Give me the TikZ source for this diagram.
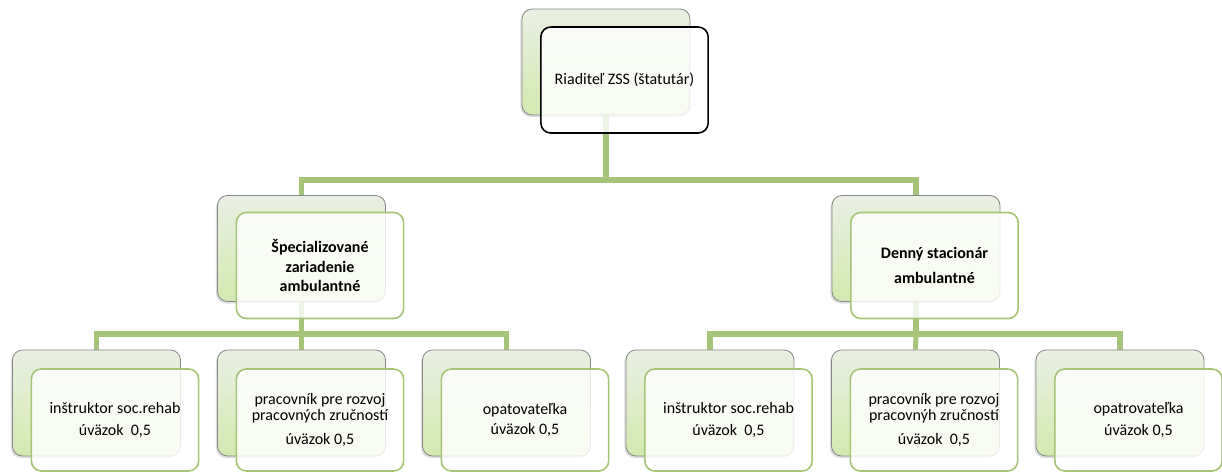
\documentclass[tikz,border=0pt]{standalone}
\usepackage{fontspec}
\setmainfont{Carlito}
\usetikzlibrary{backgrounds,shadows}
\definecolor{lineGreen}{RGB}{166,196,122}
\definecolor{edgeGreen}{RGB}{165,196,118}
\definecolor{backTop}{RGB}{233,239,226}
\definecolor{backBottom}{RGB}{211,233,176}
\definecolor{backEdge}{RGB}{135,135,135}
\tikzset{
  backbox/.style={rectangle, rounded corners=7.5pt, minimum width=126pt, minimum height=79.5pt,
    inner sep=0pt, draw=backEdge, line width=0.6pt, top color=backTop, bottom color=backBottom,
    drop shadow={shadow xshift=-1.2pt, shadow yshift=-1.5pt, opacity=0.25}},
  frontbox/.style={rectangle, rounded corners=7.5pt, minimum width=125.5pt, minimum height=79.5pt,
    inner sep=0pt, draw=edgeGreen, line width=1.2pt, fill=white, fill opacity=0.82, text opacity=1,
    align=center, font=\fontsize{12}{12}\selectfont},
  lowbox/.style={frontbox, minimum height=76.5pt},
  conn/.style={draw=lineGreen, line width=3.8pt}
}
\begin{document}
\begin{tikzpicture}[x=0.75pt,y=-0.75pt]
  \useasboundingbox (0,0) rectangle (1222,472);
  % riaditel
  \node[backbox] (riad) at (606,62) {};
  \node[frontbox, draw=black] (riadT) at ([shift={(18.5,18)}]riad) {Riaditeľ ZSS (štatutár)};
  % druha uroven
  \node[backbox] (spec) at (301.5,248.5) {};
  \node[frontbox] (specT) at ([shift={(18.5,17)}]spec) {\textbf{Špecializované}\\[2.5pt]\textbf{zariadenie}\\[2.5pt]\textbf{ambulantné}};
  \node[backbox] (denny) at (916,248.5) {};
  \node[frontbox] (dennyT) at ([shift={(18.5,17)}]denny) {\textbf{Denný stacionár}\\[6.75pt]\textbf{ambulantné}};
  % tretia uroven
  \node[backbox] (s1) at (96.5,403) {};
  \node[lowbox] (s1T) at ([shift={(18.5,17)}]s1) {inštruktor soc.rehab\\[4pt]úväzok~~0,5};
  \node[backbox] (s2) at (301.5,403) {};
  \node[lowbox] (s2T) at ([shift={(18.5,17)}]s2) {pracovník pre rozvoj\\pracovných zručností\\[6pt]úväzok 0,5};
  \node[backbox] (s3) at (506.5,403) {};
  \node[lowbox] (s3T) at ([shift={(18.5,17)}]s3) {opatovateľka\\[3pt]úväzok 0,5};
  \node[backbox] (d1) at (710,403) {};
  \node[lowbox] (d1T) at ([shift={(18.5,17)}]d1) {inštruktor soc.rehab\\[5pt]úväzok~~0,5};
  \node[backbox] (d2) at (915.5,403) {};
  \node[lowbox] (d2T) at ([shift={(18.5,17)}]d2) {pracovník pre rozvoj\\pracovnýh zručností\\[6pt]úväzok~~0,5};
  \node[backbox] (d3) at (1120,403) {};
  \node[lowbox] (d3T) at ([shift={(18.5,17)}]d3) {opatrovateľka\\[5pt]úväzok 0,5};
  % spojnice
  \coordinate (bus0) at (606,180);
  \coordinate (bus1) at (301.5,334);
  \coordinate (bus2) at (916,334);
  \begin{scope}[on background layer]
    \draw[conn] (riad.south) -- (bus0) -| (spec.north);
    \draw[conn] (bus0) -| (denny.north);
    \draw[conn] (spec.south) -- (bus1) -| (s1.north);
    \draw[conn] (bus1) -- (s2.north);
    \draw[conn] (bus1) -| (s3.north);
    \draw[conn] (denny.south) -- (bus2) -| (d1.north);
    \draw[conn] (bus2) -- (d2.north);
    \draw[conn] (bus2) -| (d3.north);
  \end{scope}
\end{tikzpicture}
\end{document}
